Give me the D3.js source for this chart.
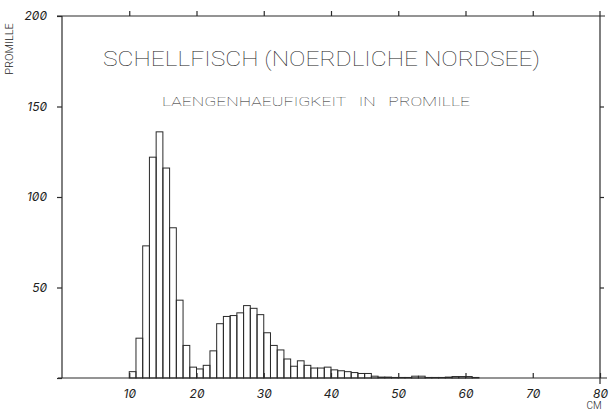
<!DOCTYPE html>
<meta charset="utf-8">
<head>
  <script src="https://d3js.org/d3.v7.min.js"></script>
  <style>
    body { margin: 0; background: #fff; }
    svg { display: block; }
    .tick text { font-family: Inter, "DejaVu Sans", sans-serif; font-style: italic; font-size: 12px; fill: #222; font-feature-settings: "zero" 1; }
    .plot-text { font-family: Roboto, "Open Sans", sans-serif; font-weight: 100; fill: #222; }
  </style>
</head>
<body>
  <div id="my_dataviz"></div>
  <script>

    // length classes (cm) and frequency in promille
    var lengthCm = [10, 11, 12, 13, 14, 15, 16, 17, 18, 19,
                    20, 21, 22, 23, 24, 25, 26, 27, 28, 29,
                    30, 31, 32, 33, 34, 35, 36, 37, 38, 39,
                    40, 41, 42, 43, 44, 45, 46, 47, 48, 49,
                    50, 51, 52, 53, 54, 55, 56, 57, 58, 59,
                    60, 61];
    var promille = [3.5, 22, 73, 122, 136, 116, 83, 43, 18, 6,
                    5, 7, 15, 30, 34, 34.5, 36, 40, 38.5, 35,
                    25, 18, 15.5, 10.5, 6.5, 9.5, 7, 5.5, 5.5, 6,
                    4.5, 4, 3.5, 3, 2.5, 2.5, 1, 0.5, 0.5, 0.3,
                    0.3, 0.3, 1, 1, 0.3, 0.3, 0.3, 0.5, 0.8, 0.8,
                    0.8, 0.3];

    var xTicks = [10, 20, 30, 40, 50, 60, 70, 80];
    var yTicks = [0, 50, 100, 150, 200];

    var title = "SCHELLFISCH (NOERDLICHE NORDSEE)";
    var subtitle = "LAENGENHAEUFIGKEIT   IN   PROMILLE";

    var data = lengthCm.map(function (d, i) { return { cm: d, v: promille[i] }; });

    var W = 613, H = 410;
    var svg = d3.select("#my_dataviz")
      .append("svg")
      .attr("width", W)
      .attr("height", H);

    var x = d3.scaleLinear().domain([0, 80]).range([62, 600]);
    var y = d3.scaleLinear().domain([0, 200]).range([378, 16]);

    var ink = "#2a2a2a";

    // bars (outlined histogram)
    svg.selectAll("mybar")
      .data(data)
      .enter()
      .append("rect")
      .attr("x", function (d) { return x(d.cm); })
      .attr("width", function (d) { return x(d.cm + 1) - x(d.cm); })
      .attr("y", function (d) { return y(d.v); })
      .attr("height", function (d) { return y(0) - y(d.v); })
      .attr("fill", "none")
      .attr("stroke", ink)
      .attr("stroke-width", 1);

    // frame
    var frame = svg.append("g").attr("stroke", ink).attr("stroke-width", 1.2);
    frame.append("line").attr("x1", x(0)).attr("x2", x(0)).attr("y1", y(200)).attr("y2", y(0));
    frame.append("line").attr("x1", x(0) - 5).attr("x2", x(80) + 5).attr("y1", y(200)).attr("y2", y(200));
    frame.append("line").attr("x1", x(80)).attr("x2", x(80)).attr("y1", y(200) - 5).attr("y2", y(0) + 6);
    frame.append("line").attr("x1", x(0) - 4).attr("x2", x(80) + 7).attr("y1", y(0)).attr("y2", y(0));

    // bottom axis
    var gx = svg.append("g")
      .attr("transform", "translate(0," + y(0) + ")")
      .call(d3.axisBottom(x).tickValues(xTicks).tickSize(-5).tickPadding(11).tickFormat(d3.format("d")));
    gx.select(".domain").remove();

    // top axis
    var gt = svg.append("g")
      .attr("transform", "translate(0," + y(200) + ")")
      .call(d3.axisTop(x).tickValues(xTicks.slice(0, 7)).tickSize(5).tickFormat(""));
    gt.select(".domain").remove();

    // left axis
    var gy = svg.append("g")
      .attr("transform", "translate(" + x(0) + ",0)")
      .call(d3.axisLeft(y).tickValues(yTicks).tickSize(5).tickPadding(10)
        .tickFormat(function (d) { return d === 0 ? "" : d; }));
    gy.select(".domain").remove();

    // right axis
    var gr = svg.append("g")
      .attr("transform", "translate(" + x(80) + ",0)")
      .call(d3.axisRight(y).tickValues(yTicks.slice(1, 4)).tickSize(4).tickFormat(""));
    gr.select(".domain").remove();

    svg.selectAll(".tick line").attr("stroke", ink).attr("stroke-width", 1.2);

    // titles
    svg.append("text")
      .attr("class", "plot-text")
      .attr("x", 103).attr("y", 66)
      .attr("font-size", 20)
      .attr("textLength", 437)
      .attr("lengthAdjust", "spacingAndGlyphs")
      .text(title);

    svg.append("text")
      .attr("class", "plot-text")
      .attr("x", 162).attr("y", 106)
      .attr("font-size", 13)
      .attr("textLength", 308)
      .attr("lengthAdjust", "spacingAndGlyphs")
      .style("white-space", "pre")
      .attr("xml:space", "preserve")
      .text(subtitle);

    // axis labels
    svg.append("text")
      .attr("class", "plot-text")
      .attr("transform", "translate(13,49)rotate(-90)")
      .attr("text-anchor", "middle")
      .attr("font-size", 11)
      .style("font-weight", 300)
      .text("PROMILLE");

    svg.append("text")
      .attr("class", "plot-text")
      .attr("x", 594).attr("y", 409)
      .attr("text-anchor", "middle")
      .attr("font-size", 10)
      .style("font-weight", 300)
      .text("CM");

  </script>
</body>
